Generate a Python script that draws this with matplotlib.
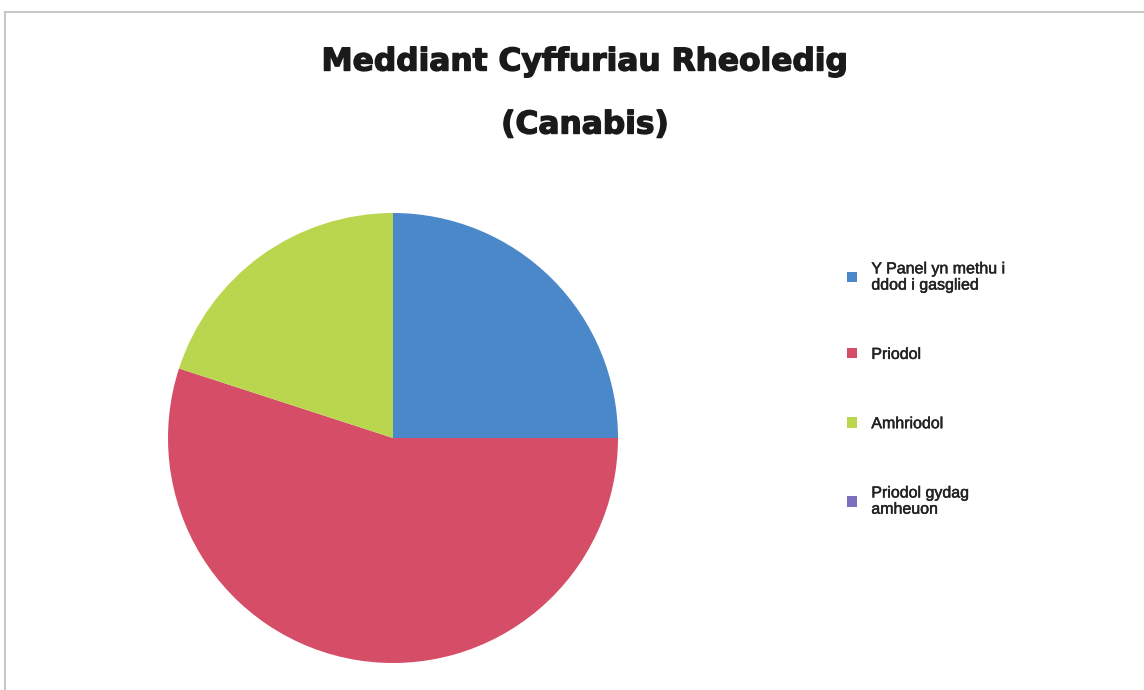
import matplotlib
matplotlib.use("Agg")
import matplotlib.pyplot as plt
from matplotlib.patches import Rectangle
import matplotlib.patheffects as pe

categories = ["Y Panel yn methu i\nddod i gasglied", "Priodol", "Amhriodol", "Priodol gydag\namheuon"]
values = [5, 11, 4, 0]
colors = ["#4A88CA", "#D54D66", "#BAD64E", "#7D6FBE"]
title_lines = ["Meddiant Cyffuriau Rheoledig", "(Canabis)"]

W, H = 1144, 690
fig = plt.figure(figsize=(W / 100, H / 100), dpi=100)
fig.patch.set_facecolor("white")

# outer chart border (top and left visible)
fig.add_artist(Rectangle((5 / W, -0.05), 1.2, (H - 12) / H + 0.05, transform=fig.transFigure,
                         fill=False, edgecolor="#c8c8c8", linewidth=1.5))

cx, cy, r = 393, 438, 225
ax = fig.add_axes([(cx - r) / W, (H - cy - r) / H, 2 * r / W, 2 * r / H])
wedges, _ = ax.pie(values, colors=colors, startangle=90, counterclock=False, radius=1,
                   wedgeprops=dict(linewidth=0))
ax.set_xlim(-1, 1)
ax.set_ylim(-1, 1)
ax.axis("off")

stroke = [pe.withStroke(linewidth=1.0, foreground="#1a1a1a")]
fig.text(585 / W, 1 - 62 / H, title_lines[0], ha="center", va="center",
         fontsize=22.5, fontweight="bold", family="DejaVu Sans", color="#1a1a1a",
         path_effects=stroke)
fig.text(585 / W, 1 - 125 / H, title_lines[1], ha="center", va="center",
         fontsize=22.5, fontweight="bold", family="DejaVu Sans", color="#1a1a1a",
         path_effects=stroke)

leg = fig.legend(wedges, categories, loc="upper left", bbox_to_anchor=(833 / W, 1 - 247 / H),
                 frameon=False, prop=dict(family="Liberation Sans", size=11.5),
                 handlelength=0.6, handleheight=0.6, handletextpad=0.9, labelspacing=3.4)
for t in leg.get_texts():
    t.set_color("#222222")
    t.set_linespacing(1.1)
    t.set_path_effects([pe.withStroke(linewidth=0.35, foreground="#222222")])

fig.savefig("out.png", dpi=100)
